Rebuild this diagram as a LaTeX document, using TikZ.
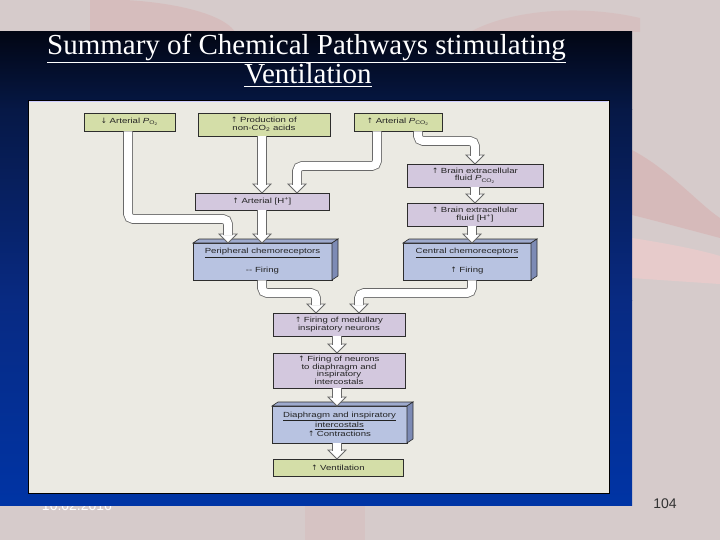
\documentclass[tikz,border=0pt]{standalone}
\usepackage{fontspec}
\setmainfont{Liberation Sans}
\newfontfamily\titlefont{Liberation Serif}
\newfontfamily\boxfont[FakeStretch=1.3]{Liberation Sans}
\newfontfamily\arrfont{DejaVu Sans}
\usetikzlibrary{calc}
\definecolor{bgpink}{RGB}{214,203,203}
\definecolor{bgred}{RGB}{215,150,150}
\definecolor{bglight}{RGB}{236,204,204}
\definecolor{boxgreen}{RGB}{212,222,168}
\definecolor{boxpurple}{RGB}{211,200,222}
\definecolor{boxblue}{RGB}{184,195,225}
\definecolor{boxblueside}{RGB}{125,139,181}
\definecolor{boxbluetop}{RGB}{158,170,205}
\definecolor{boxline}{RGB}{45,45,45}
\definecolor{panelcream}{RGB}{235,234,227}
\definecolor{pA}{RGB}{2,6,20}
\definecolor{pB}{RGB}{6,24,70}
\definecolor{pC}{RGB}{8,42,130}
\definecolor{pD}{RGB}{0,52,165}
\definecolor{shaftline}{RGB}{105,105,105}
\definecolor{txt}{RGB}{35,35,35}
\newcommand{\upa}{{\arrfont\char"2191}}
\newcommand{\dna}{{\arrfont\char"2193}}
\newcommand{\lsub}[1]{\textsubscript{#1}}
\begin{document}
\begin{tikzpicture}[x=1pt,y=-1pt,
  every node/.style={inner sep=0pt, outer sep=0pt},
  box/.style={draw=boxline, line width=0.6pt, anchor=north west, align=center,
    text=txt, font=\boxfont\fontsize{7.4}{7.6}\selectfont},
  gbox/.style={box, fill=boxgreen},
  pbox/.style={box, fill=boxpurple},
  bbox/.style={box, fill=boxblue},
  shaft/.style={draw=shaftline, line width=0.8pt, double=white, double distance=8pt, rounded corners=5pt},
  ahead/.pic={\filldraw[fill=white, draw=shaftline, line width=0.8pt] (-9,-9) -- (0,0) -- (9,-9) -- cycle;},
  ttl/.style={font=\titlefont\fontsize{29}{30}\selectfont, anchor=base},
  foot/.style={font=\fontsize{14}{14}\selectfont, anchor=base}
]
\useasboundingbox (0,0) rectangle (720,540);
% slide background
\fill[bgpink] (0,0) rectangle (720,540);
\fill[bgred, opacity=0.25] (90,0) .. controls (140,-3) and (220,8) .. (235,32) -- (90,32) -- cycle;
\fill[bgred, opacity=0.2] (470,32) .. controls (510,10) and (580,4) .. (640,18) -- (640,32) -- cycle;
\fill[bgred, opacity=0.3] (632,150) .. controls (670,170) and (700,205) .. (720,218) -- (720,238) .. controls (690,230) and (660,222) .. (632,215) -- cycle;
\fill[bglight, opacity=0.8] (632,238) .. controls (670,244) and (700,250) .. (720,256) -- (720,284) .. controls (690,282) and (660,280) .. (632,278) -- cycle;
\fill[bgred, opacity=0.15] (305,505) rectangle (365,540);
% footer date (partly hidden by panel)
\node[foot, text=white] at (77,510) {10.02.2016};
% blue panel
\shade[top color=pA, bottom color=pB] (0,32) rectangle (632,110);
\shade[top color=pB, bottom color=pC] (0,110) rectangle (632,300);
\shade[top color=pC, bottom color=pD] (0,300) rectangle (632,505);
% inner panel
\filldraw[fill=panelcream, draw=black, line width=0.8pt] (28,100) rectangle (609,493);
\draw[white!80!blue, line width=0.6pt] (29,101) -- (608,101);
% title
\node[ttl, text=white] at (306.5,55) {\underline{Summary of Chemical Pathways stimulating}};
\node[ttl, text=white] at (308,84) {\underline{Ventilation}};
% page number
\node[foot, text=black!80] at (665,508) {104};
% boxes
\node[gbox, minimum width=91pt, minimum height=18pt] (b1) at (84,113) {\dna\ Arterial \textit{P}\lsub{O\lsub{2}}};
\node[gbox, minimum width=132pt, minimum height=23pt] (b2) at (198,113) {\upa\ Production of\\ non-CO\lsub{2} acids};
\node[gbox, minimum width=88pt, minimum height=18pt] (b3) at (354,113) {\upa\ Arterial \textit{P}\lsub{CO\lsub{2}}};
\node[pbox, minimum width=136pt, minimum height=23pt] (b4) at (407,164) {\upa\ Brain extracellular\\ fluid \textit{P}\lsub{CO\lsub{2}}};
\node[pbox, minimum width=134pt, minimum height=17pt] (b5) at (195,193) {\upa\ Arterial [H\textsuperscript{+}]};
\node[pbox, minimum width=136pt, minimum height=23pt] (b6) at (407,203) {\upa\ Brain extracellular\\ fluid [H\textsuperscript{+}]};
\node[bbox, minimum width=139pt, minimum height=37pt] (b7) at (193,243) {\underline{Peripheral chemoreceptors}\\[9pt] -- Firing};
\node[bbox, minimum width=128pt, minimum height=37pt] (b8) at (403,243) {\underline{Central chemoreceptors}\\[9pt] \upa\ Firing};
\node[pbox, minimum width=132pt, minimum height=23pt] (b9) at (273,313) {\upa\ Firing of medullary\\ inspiratory neurons};
\node[pbox, minimum width=132pt, minimum height=35pt] (b10) at (273,353) {\upa\ Firing of neurons\\ to diaphragm and\\ inspiratory\\ intercostals};
\node[bbox, minimum width=135pt, minimum height=37pt] (b11) at (272,406) {\underline{Diaphragm and inspiratory}\\ \underline{intercostals}\\[2pt] \upa\ Contractions};
\node[gbox, minimum width=130pt, minimum height=17pt] (b12) at (273,459) {\upa\ Ventilation};
% 3D faces
\foreach \b in {b7,b8,b11}{
  \filldraw[fill=boxbluetop, draw=boxline, line width=0.6pt] (\b.north west) -- ++(6,-4) -- ($(\b.north east)+(6,-4)$) -- (\b.north east) -- cycle;
  \filldraw[fill=boxblueside, draw=boxline, line width=0.6pt] (\b.north east) -- ++(6,-4) -- ($(\b.south east)+(6,-4)$) -- (\b.south east) -- cycle;
}
% arrow heads
\path ($(b7.north west)+(35,0)$) pic {ahead};
\path ($(b5.north west)+(67,0)$) pic {ahead};
\path ($(b5.north west)+(102,0)$) pic {ahead};
\path ($(b4.north west)+(68,0)$) pic {ahead};
\path ($(b6.north west)+(68,0)$) pic {ahead};
\path ($(b8.north west)+(69,0)$) pic {ahead};
\path ($(b7.north west)+(69,0)$) pic {ahead};
\path ($(b9.north west)+(43,0)$) pic {ahead};
\path ($(b9.north west)+(86,0)$) pic {ahead};
\path ($(b10.north west)+(64,0)$) pic {ahead};
\path ($(b11.north west)+(65,0)$) pic {ahead};
\path ($(b12.north west)+(64,0)$) pic {ahead};
% shafts
\draw[shaft] ($(b1.south west)+(44,0.4)$) |- ($(b7.north west)+(35,-24)$) -- ($(b7.north west)+(35,-8)$);
\draw[shaft] ($(b2.south west)+(64,0.4)$) -- ($(b5.north west)+(67,-8)$);
\draw[shaft] ($(b3.south west)+(23,0.4)$) |- ($(b5.north west)+(102,-27)$) -- ($(b5.north west)+(102,-8)$);
\draw[shaft] ($(b3.south west)+(64,0.4)$) |- ($(b4.north west)+(68,-23)$) -- ($(b4.north west)+(68,-8)$);
\draw[shaft] ($(b4.south west)+(68,0.4)$) -- ($(b6.north west)+(68,-8)$);
\draw[shaft] ($(b6.south west)+(65,0.4)$) -- ($(b8.north west)+(69,-8)$);
\draw[shaft] ($(b5.south west)+(67,0.4)$) -- ($(b7.north west)+(69,-8)$);
\draw[shaft] ($(b7.south west)+(69,0.4)$) |- ($(b9.north west)+(43,-20)$) -- ($(b9.north west)+(43,-8)$);
\draw[shaft] ($(b8.south west)+(69,0.4)$) |- ($(b9.north west)+(86,-20)$) -- ($(b9.north west)+(86,-8)$);
\draw[shaft] ($(b9.south west)+(64,0.4)$) -- ($(b10.north west)+(64,-8)$);
\draw[shaft] ($(b10.south west)+(64,0.4)$) -- ($(b11.north west)+(65,-8)$);
\draw[shaft] ($(b11.south west)+(65,0.4)$) -- ($(b12.north west)+(64,-8)$);
\end{tikzpicture}
\end{document}
